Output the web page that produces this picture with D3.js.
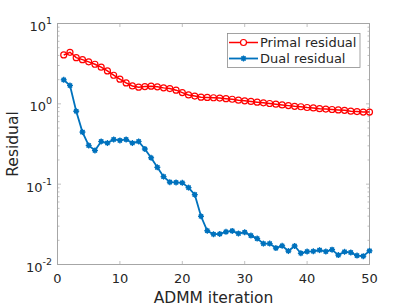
<!DOCTYPE html>
<html lang="en">
<head>
<meta charset="UTF-8">
<script src="https://d3js.org/d3.v7.min.js"></script>
<style>
  body { margin: 0; background: #fff; }
  text { font-family: "DejaVu Sans", sans-serif; fill: #262626; }
</style>
</head>
<body>
<svg id="chart" width="409" height="307"></svg>
<script>
// data
const iterations = d3.range(1, 51);
const primalResidual = [4.06, 4.38, 3.76, 3.55, 3.33, 3.11, 2.86, 2.57, 2.27, 2.03,
  1.82, 1.67, 1.61, 1.64, 1.66, 1.63, 1.58, 1.55, 1.48, 1.38,
  1.29, 1.25, 1.21, 1.20, 1.19, 1.18, 1.16, 1.14, 1.11, 1.09,
  1.07, 1.05, 1.03, 1.01, 0.99, 0.97, 0.95, 0.93, 0.92, 0.90,
  0.89, 0.87, 0.86, 0.85, 0.84, 0.83, 0.81, 0.80, 0.79, 0.79];
const dualResidual = [1.99, 1.69, 0.81, 0.445, 0.303, 0.263, 0.34, 0.325, 0.36, 0.35,
  0.36, 0.325, 0.34, 0.274, 0.213, 0.162, 0.124, 0.106, 0.105, 0.104,
  0.0906, 0.074, 0.0398, 0.0263, 0.0238, 0.024, 0.0255, 0.0262, 0.0243, 0.0252,
  0.0229, 0.021, 0.0182, 0.0182, 0.016, 0.0171, 0.0147, 0.017, 0.0138, 0.0145,
  0.0146, 0.0151, 0.0145, 0.0153, 0.0131, 0.0144, 0.0141, 0.0129, 0.0127, 0.0148];
const xTicks = [0, 10, 20, 30, 40, 50];
const yExponents = [1, 0, -1, -2];
const seriesNames = ["Primal residual", "Dual residual"];

const svg = d3.select("#chart");
const pL = 57.5, pR = 369.5, pT = 23.5, pB = 264.5;

const x = d3.scaleLinear().domain([0, 50]).range([pL, pR]);
const y = d3.scaleLog().domain([0.01, 10]).range([pB, pT]);

const frameColor = "#a6a6a6";

// minor + major ticks, inside, on both sides
const minorVals = [];
[-2, -1, 0].forEach(e => { for (let k = 2; k <= 9; k++) minorVals.push(k * Math.pow(10, e)); });

const ticks = svg.append("g").attr("stroke", frameColor).attr("stroke-width", 0.7);
minorVals.forEach(v => {
  ticks.append("line").attr("x1", pL).attr("x2", pL + 2).attr("y1", y(v)).attr("y2", y(v));
  ticks.append("line").attr("x1", pR).attr("x2", pR - 2).attr("y1", y(v)).attr("y2", y(v));
});
yExponents.forEach(e => {
  const v = Math.pow(10, e);
  ticks.append("line").attr("x1", pL).attr("x2", pL + 3.5).attr("y1", y(v)).attr("y2", y(v));
  ticks.append("line").attr("x1", pR).attr("x2", pR - 3.5).attr("y1", y(v)).attr("y2", y(v));
});
xTicks.forEach(t => {
  ticks.append("line").attr("x1", x(t)).attr("x2", x(t)).attr("y1", pB).attr("y2", pB - 3.5);
  ticks.append("line").attr("x1", x(t)).attr("x2", x(t)).attr("y1", pT).attr("y2", pT + 3.5);
});

// frame
svg.append("rect")
  .attr("x", pL).attr("y", pT)
  .attr("width", pR - pL).attr("height", pB - pT)
  .attr("fill", "none").attr("stroke", frameColor).attr("stroke-width", 1);

// x tick labels
svg.append("g").selectAll("text").data(xTicks).enter().append("text")
  .attr("x", d => x(d)).attr("y", 283)
  .attr("text-anchor", "middle").attr("font-size", 13)
  .text(d => d);

// y tick labels 10^e
const yl = svg.append("g").selectAll("text").data(yExponents).enter().append("text")
  .attr("x", 52).attr("y", d => y(Math.pow(10, d)) + 7.5)
  .attr("text-anchor", "end").attr("font-size", 13);
yl.append("tspan").text("10");
yl.append("tspan").attr("dy", -7).attr("font-size", 9.5).text(d => d);

// axis titles
svg.append("text")
  .attr("x", (pL + pR) / 2).attr("y", 303)
  .attr("text-anchor", "middle").attr("font-size", 15.5)
  .text("ADMM iteration");
svg.append("text")
  .attr("transform", "translate(18," + ((pT + pB) / 2) + ") rotate(-90)")
  .attr("text-anchor", "middle").attr("font-size", 15.5)
  .text("Residual");

const line = d3.line().x((d, i) => x(iterations[i])).y(d => y(d));

// primal
svg.append("path").datum(primalResidual)
  .attr("d", line).attr("fill", "none")
  .attr("stroke", "#ff0000").attr("stroke-width", 1.5);
svg.append("g").selectAll("circle").data(primalResidual).enter().append("circle")
  .attr("cx", (d, i) => x(iterations[i])).attr("cy", d => y(d))
  .attr("r", 3).attr("fill", "none")
  .attr("stroke", "#ff0000").attr("stroke-width", 1.2);

// dual
function asterisk(g, cx, cy, color) {
  const s = 3;
  g.append("circle").attr("cx", cx).attr("cy", cy).attr("r", 2.4).attr("fill", color);
  [[s, 0], [0, s], [s * 0.7, s * 0.7], [s * 0.7, -s * 0.7]].forEach(([dx, dy]) => {
    g.append("line")
      .attr("x1", cx - dx).attr("y1", cy - dy).attr("x2", cx + dx).attr("y2", cy + dy)
      .attr("stroke", color).attr("stroke-width", 1.3);
  });
}
svg.append("path").datum(dualResidual)
  .attr("d", line).attr("fill", "none")
  .attr("stroke", "#0072bd").attr("stroke-width", 1.8);
const dm = svg.append("g");
dualResidual.forEach((d, i) => asterisk(dm, x(iterations[i]), y(d), "#0072bd"));

// legend
const lg = svg.append("g");
lg.append("rect").attr("x", 227.5).attr("y", 33.5).attr("width", 132.5).attr("height", 34)
  .attr("fill", "#fff").attr("stroke", "#8c8c8c").attr("stroke-width", 0.8);
const rowsY = [42.5, 58.5];
lg.append("line").attr("x1", 229).attr("x2", 258).attr("y1", rowsY[0]).attr("y2", rowsY[0])
  .attr("stroke", "#ff0000").attr("stroke-width", 1.5);
lg.append("circle").attr("cx", 243.5).attr("cy", rowsY[0]).attr("r", 3)
  .attr("fill", "#fff").attr("stroke", "#ff0000").attr("stroke-width", 1.2);
lg.append("line").attr("x1", 229).attr("x2", 258).attr("y1", rowsY[1]).attr("y2", rowsY[1])
  .attr("stroke", "#0072bd").attr("stroke-width", 1.8);
asterisk(lg, 243.5, rowsY[1], "#0072bd");
lg.selectAll("text.lab").data(seriesNames).enter().append("text")
  .attr("class", "lab")
  .attr("x", 260).attr("y", (d, i) => rowsY[i] + 4.7)
  .attr("font-size", 13)
  .text(d => d);
</script>
</body>
</html>
